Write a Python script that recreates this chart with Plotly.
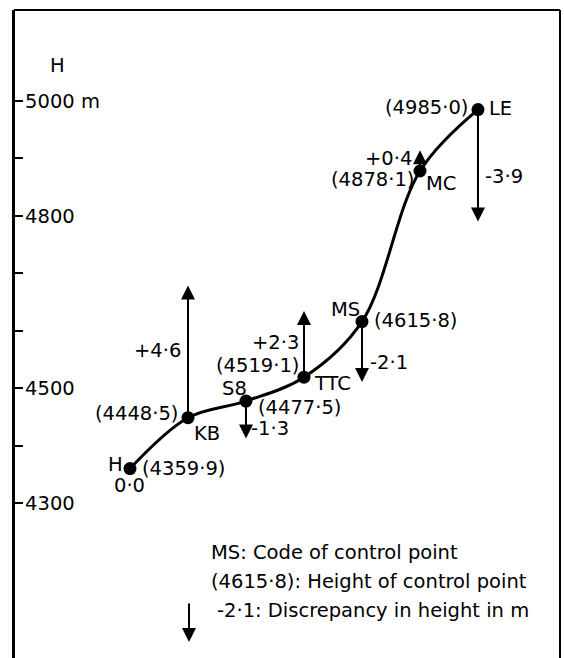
import plotly.graph_objects as go

# ---- data ----
codes = ["H", "KB", "S8", "TTC", "MS", "MC", "LE"]
heights = [4359.9, 4448.5, 4477.5, 4519.1, 4615.8, 4878.1, 4985.0]
discrepancies = [0.0, 4.6, -1.3, 2.3, -2.1, 0.4, -3.9]
tick_values = [4300, 4400, 4500, 4600, 4700, 4800, 4900, 5000]
tick_labels = ["4300", "", "4500", "", "", "4800", "", "5000 m"]

def fmt(v, sign=False):
    s = (f"{v:+.1f}" if sign and v != 0 else f"{v:.1f}")
    return s.replace(".", "\u00b7")

# ---- style ----
FONT = "DejaVu Sans"
FS = 19.5
W, H = 564, 658
ML, MR, MT, MB = 14, 4, 10, 0
ARROW_SCALE = 50.0   # axis metres per metre of discrepancy
ARROW_MIN = 36.0

# label offsets (pixels: dx, dy screen-down, xanchor)
code_off = [(-15, -4, "center"), (4, 16, "left"), (-11, -13, "center"), (8, 6, "left"),
            (0, -12, "right"), (4, 13, "left"), (9, -1, "left")]
height_off = [(10, 0, "left"), (-8, -4, "right"), (10, 6, "left"), (-3, -12, "right"),
              (10, -1, "left"), (-4, 9, "right"), (-8, -2, "right")]
disc_off = [(-1, 17, "center"), (-5, -67, "right"), (3, 27, "left"), (-3, -35, "right"),
            (6, 41, "left"), (-6, -12, "right"), (5, 67, "left")]

xs = list(range(len(codes)))

fig = go.Figure()
fig.add_trace(go.Scatter(
    x=xs, y=heights, mode="lines+markers",
    line=dict(color="black", width=3, shape="spline", smoothing=1.0),
    marker=dict(color="black", size=13),
    hoverinfo="skip", showlegend=False))

ann = []
def text_ann(x, y, text, dx, dy, xa):
    ann.append(dict(x=x, y=y, xref="x", yref="y", text=text, showarrow=False,
                    xanchor=xa, yanchor="middle", xshift=dx, yshift=-dy,
                    font=dict(family=FONT, size=FS, color="black")))

for i, (c, h, d) in enumerate(zip(codes, heights, discrepancies)):
    text_ann(i, h, c, *code_off[i])
    text_ann(i, h, f"({fmt(h)})", *height_off[i])
    text_ann(i, h, fmt(d, sign=True), *disc_off[i])
    if d != 0:
        length = max(abs(d) * ARROW_SCALE, ARROW_MIN) * (1 if d > 0 else -1)
        ann.append(dict(x=i, y=h + length, ax=i, ay=h, xref="x", yref="y",
                        axref="x", ayref="y", text="", showarrow=True,
                        arrowhead=2, arrowsize=1.4, arrowwidth=2, arrowcolor="black",
                        standoff=0, startstandoff=0))

pw, ph = W - ML - MR, H - MT - MB
def px(x):
    return (x - ML) / pw
def py(y):
    return 1 - (y - MT) / ph

# axis title
ann.append(dict(x=px(57), y=py(66), xref="paper", yref="paper", text="H", showarrow=False,
                xanchor="center", yanchor="middle", font=dict(family=FONT, size=FS, color="black")))
# key
key_lines = [("MS: Code of control point", 209, 552),
             ("(4615\u00b78): Height of control point", 209, 581),
             ("-2\u00b71: Discrepancy in height in m", 215, 610)]
for t, x0, y0 in key_lines:
    ann.append(dict(x=px(x0), y=py(y0), xref="paper", yref="paper", text=t, showarrow=False,
                    xanchor="left", yanchor="middle", font=dict(family=FONT, size=FS, color="black")))
ann.append(dict(x=px(189), y=py(642), ax=0, ay=-40, xref="paper", yref="paper",
                axref="pixel", ayref="pixel", text="", showarrow=True, arrowhead=2,
                arrowsize=1.4, arrowwidth=2, arrowcolor="black", standoff=0))

# frame: top, left and right (open at the bottom)
frame = [dict(x0=0, x1=1, y0=1, y1=1), dict(x0=0, x1=0, y0=0, y1=1), dict(x0=1, x1=1, y0=0, y1=1)]
shapes = [dict(type="line", xref="paper", yref="paper", line=dict(color="black", width=2), **f)
          for f in frame]

fig.update_layout(
    width=W, height=H, margin=dict(l=ML, r=MR, t=MT, b=MB),
    paper_bgcolor="white", plot_bgcolor="white",
    font=dict(family=FONT, size=FS, color="black"),
    annotations=ann, shapes=shapes,
    xaxis=dict(range=[-2.0, 7.414], showline=False,
               showgrid=False, zeroline=False, showticklabels=False, ticks=""),
    yaxis=dict(range=[4030.1, 5158.4], showline=True, linecolor="black", linewidth=2,
               showgrid=False, zeroline=False, tickvals=tick_values, ticktext=tick_labels,
               ticks="inside", ticklen=9, tickwidth=2, tickcolor="black",
               ticklabelposition="inside", ticklabelstandoff=3,
               tickfont=dict(family=FONT, size=FS, color="black")),
)

fig.write_html("out.html", config={"displayModeBar": False},
               post_script="document.body.style.margin='0';")
